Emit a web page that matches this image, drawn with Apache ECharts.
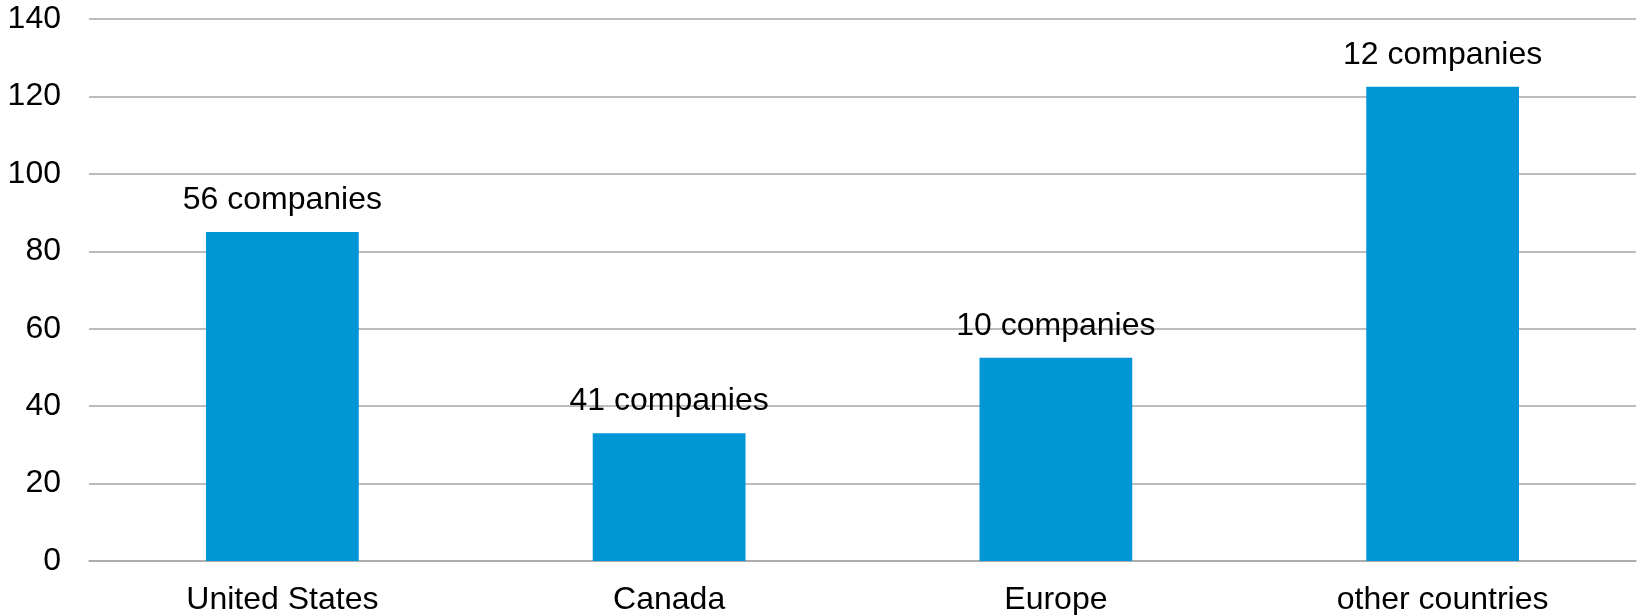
<!DOCTYPE html>
<html>
<head>
<meta charset="utf-8">
<script src="https://cdn.jsdelivr.net/npm/echarts@6/dist/echarts.min.js"></script>
<style>html,body{margin:0;padding:0;background:#fff;}#c{width:1640px;height:615px;}</style>
</head>
<body>
<div id="c"></div>
<script>
const categories = ["United States", "Canada", "Europe", "other countries"];
const values = [85, 33, 52.5, 122.5];
const barLabels = ["56 companies", "41 companies", "10 companies", "12 companies"];
const yTicks = [0, 20, 40, 60, 80, 100, 120, 140];

const chart = echarts.init(document.getElementById('c'), null, {renderer: 'canvas'});
const font = 'Liberation Sans, Arial, sans-serif';
chart.setOption({
  animation: false,
  grid: {left: 89, right: 4, top: 19, bottom: 54, containLabel: false, outerBoundsMode: 'none'},
  xAxis: {
    type: 'category',
    data: categories,
    axisLine: {show: true, lineStyle: {color: '#A6A6A6', width: 1.5}},
    axisTick: {show: false},
    axisLabel: {color: '#000', fontSize: 32, fontFamily: font, margin: 23}
  },
  yAxis: {
    type: 'value',
    min: yTicks[0],
    max: yTicks[yTicks.length - 1],
    interval: 20,
    axisLine: {show: false},
    axisTick: {show: false},
    splitLine: {lineStyle: {color: '#A6A6A6', width: 1.5}},
    axisLabel: {color: '#000', fontSize: 32, fontFamily: font, margin: 28}
  },
  series: [{
    type: 'bar',
    data: values,
    barWidth: '39.5%',
    itemStyle: {color: '#0096D6'},
    label: {
      show: true,
      position: 'top',
      distance: 16,
      color: '#000',
      fontSize: 32,
      fontFamily: font,
      formatter: p => barLabels[p.dataIndex]
    }
  }]
});
</script>
</body>
</html>
